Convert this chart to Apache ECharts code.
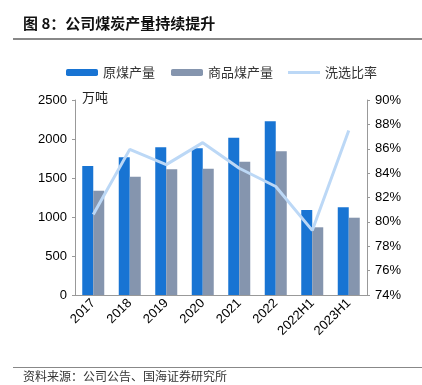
<!DOCTYPE html>
<html><head><meta charset="utf-8">
<script src="https://cdn.jsdelivr.net/npm/echarts@6/dist/echarts.min.js"></script>
<style>html,body{margin:0;padding:0;background:#fff}#c{width:422px;height:385px}</style>
</head><body><div id="c"></div>
<script>
const categories = ['2017','2018','2019','2020','2021','2022','2022H1','2023H1'];
const rawCoal = [1654, 1765, 1893, 1880, 2017, 2226, 1090, 1124];
const productCoal = [1337, 1517, 1611, 1620, 1709, 1842, 868, 991];
const washRatio = [80.6, 85.95, 84.7, 86.5, 84.4, 82.9, 79.3, 87.5];
const leftTicks = [0, 500, 1000, 1500, 2000, 2500];
const rightTicks = [74, 76, 78, 80, 82, 84, 86, 88, 90];

const cjk = '"Noto Sans CJK SC", sans-serif';
const latin = '"Liberation Sans", Arial, sans-serif';
const chart = echarts.init(document.getElementById('c'));
chart.setOption({
  animation: false,
  color: ['#1874D3', '#8595AE', '#BCD8F6'],
  legend: [{
    top: 61, left: 61, itemWidth: 32, itemHeight: 7, itemGap: 16,
    textStyle: { fontFamily: cjk, fontSize: 13, color: '#333' },
    data: ['原煤产量', '商品煤产量']
  }, {
    top: 61, left: 283, itemWidth: 32, itemHeight: 3, icon: 'rect',
    textStyle: { fontFamily: cjk, fontSize: 13, color: '#333' },
    data: ['洗选比率']
  }],
  grid: { left: 75, right: 55, top: 100, bottom: 90 },
  xAxis: {
    type: 'category', data: categories,
    axisLine: { lineStyle: { color: '#999' } },
    axisTick: { lineStyle: { color: '#999' }, length: 4 },
    axisLabel: { rotate: 45, fontFamily: latin, fontSize: 13, color: '#000', margin: 6 }
  },
  yAxis: [{
    type: 'value', min: leftTicks[0], max: leftTicks[leftTicks.length-1], interval: 500,
    splitLine: { show: false },
    axisLine: { show: true, lineStyle: { color: '#999' } },
    axisTick: { show: true, length: 3, lineStyle: { color: '#999' } },
    axisLabel: { fontFamily: latin, fontSize: 13, color: '#000', margin: 8, formatter: v => String(v) }
  }, {
    type: 'value', min: rightTicks[0], max: rightTicks[rightTicks.length-1], interval: 2,
    splitLine: { show: false },
    axisLine: { show: true, lineStyle: { color: '#999' } },
    axisTick: { show: true, length: 3, lineStyle: { color: '#999' } },
    axisLabel: { fontFamily: latin, fontSize: 13, color: '#000', margin: 8, formatter: '{value}%' }
  }],
  series: [
    { name: '原煤产量', type: 'bar', data: rawCoal, barWidth: 11, barGap: '0%', itemStyle: { color: '#1874D3' } },
    { name: '商品煤产量', type: 'bar', data: productCoal, barWidth: 11, barGap: '0%', itemStyle: { color: '#8595AE' } },
    { name: '洗选比率', type: 'line', yAxisIndex: 1, data: washRatio, symbol: 'none',
      lineStyle: { width: 3, color: '#BCD8F6' }, itemStyle: { color: '#BCD8F6' } }
  ],
  graphic: [
    { type: 'text', left: 23, top: 16, style: { text: '图 8：公司煤炭产量持续提升', font: 'bold 15px ' + cjk, fill: '#111' } },
    { type: 'rect', shape: { x: 13, y: 38, width: 409, height: 2 }, style: { fill: '#888' } },
    { type: 'text', left: 82, top: 91, style: { text: '万吨', font: '13px ' + cjk, fill: '#222' } },
    { type: 'rect', shape: { x: 13, y: 367, width: 409, height: 1 }, style: { fill: '#888' } },
    { type: 'text', left: 23, top: 370, style: { text: '资料来源：公司公告、国海证券研究所', font: '12px ' + cjk, fill: '#333' } }
  ]
});
</script></body></html>
